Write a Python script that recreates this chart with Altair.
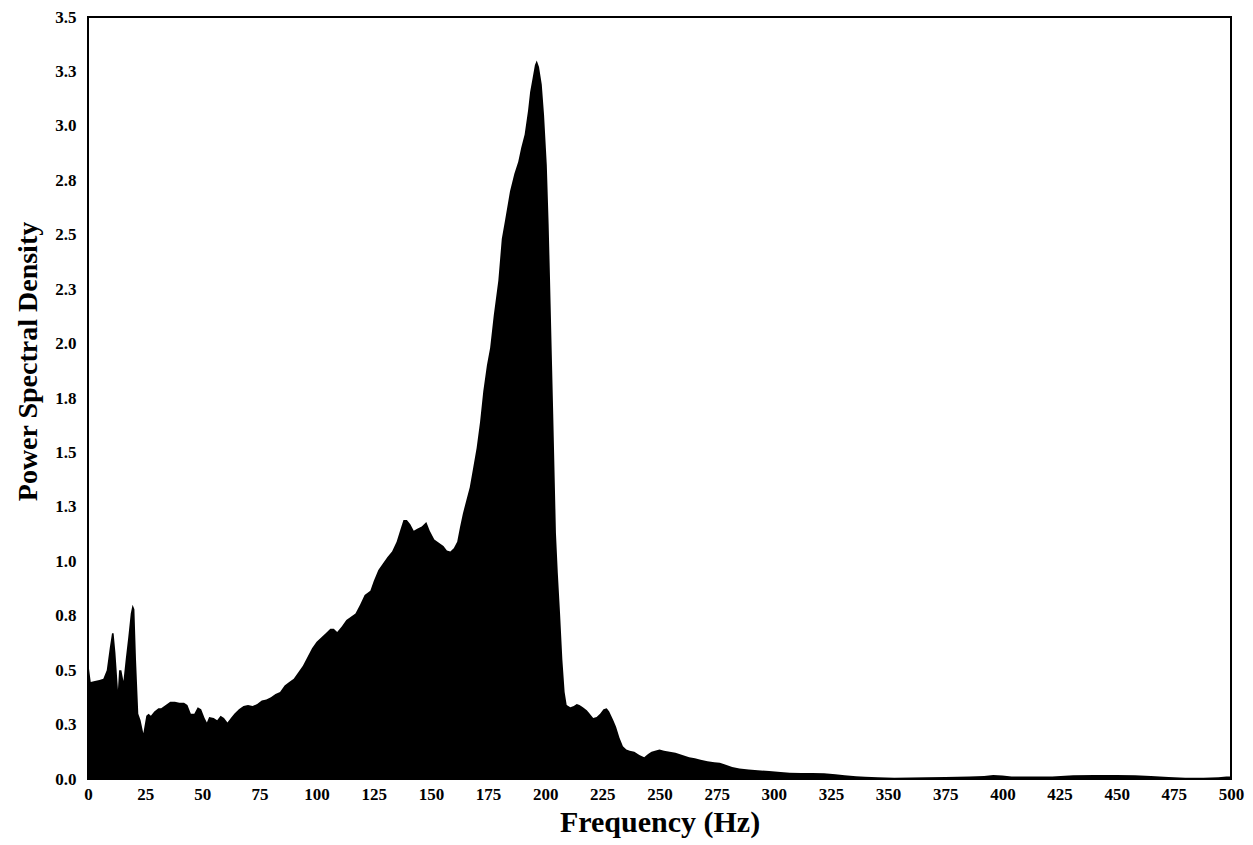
import altair as alt
import pandas as pd

freq = [0, 0.4, 1.2, 3, 5, 6.7, 8.2, 9.5, 10.5, 11.2, 12, 13.1, 13.6, 14.6, 15.5, 16.5, 17.6, 18.7, 19.5, 20.3,
        21, 22, 23, 24.2, 25.5, 26.5, 27.5, 29, 30.8, 32, 34, 36, 38, 40, 42, 43.5, 45, 46.5, 48, 49.5,
        51, 52, 53, 55, 56.5, 58, 59.5, 61, 62.5, 64, 66, 68, 70, 72, 74, 76, 78, 80, 82, 84,
        86, 88, 90, 92, 94, 96, 98, 100, 102, 104, 106, 107.5, 109, 111, 113, 115, 117, 119, 121, 123.5,
        125, 127, 129, 131, 133, 135, 136.5, 138, 139.5, 141, 142.5, 144, 146, 148, 149.5, 151.5, 153.5, 155.5, 157, 158.5,
        160, 161.5, 162.7, 164, 165.5, 167, 168.5, 170, 171.5, 172.9, 174.5, 175.9, 177.5, 179.5, 181, 182.5, 184.6, 186.5, 188.2, 189.5,
        191, 192.5, 193.4, 194.5, 195.5, 196.3, 197.3, 198.5, 199.5, 200.7, 201.5, 202.1, 203, 203.5, 204.7, 205.5, 206.5, 207.5, 208.5, 209.4,
        211, 212.5, 213.8, 215, 216.5, 218.2, 219.5, 221, 222.5, 224, 225.5, 226.9, 228, 229.8, 231, 232.5, 234, 235.5, 237, 239,
        241.2, 243.3, 245, 246.5, 248, 250, 252, 254.5, 257, 260, 263, 265.5, 268, 271, 274, 276.4, 279, 281.8, 285, 289,
        293, 298, 303, 307, 312, 317, 322, 327, 331, 336, 340, 345.5, 352.7, 360, 367, 375, 385.5, 392, 396, 400,
        404, 412, 421.8, 431, 440, 450, 458, 465, 472.7, 480, 488, 494.5, 498, 500]

psd = [0.70, 0.51, 0.445, 0.45, 0.455, 0.46, 0.50, 0.60, 0.67, 0.67, 0.58, 0.41, 0.50, 0.50, 0.45, 0.55, 0.65, 0.76, 0.80, 0.78,
       0.55, 0.30, 0.27, 0.21, 0.29, 0.30, 0.29, 0.31, 0.325, 0.325, 0.34, 0.355, 0.355, 0.35, 0.35, 0.34, 0.30, 0.30, 0.33, 0.32,
       0.28, 0.26, 0.285, 0.28, 0.27, 0.29, 0.28, 0.26, 0.28, 0.30, 0.32, 0.335, 0.34, 0.335, 0.345, 0.36, 0.365, 0.375, 0.39, 0.40,
       0.43, 0.445, 0.46, 0.49, 0.52, 0.56, 0.60, 0.63, 0.65, 0.67, 0.69, 0.69, 0.675, 0.70, 0.73, 0.745, 0.76, 0.80, 0.845, 0.865,
       0.91, 0.96, 0.99, 1.02, 1.045, 1.09, 1.14, 1.19, 1.19, 1.17, 1.14, 1.15, 1.16, 1.18, 1.14, 1.10, 1.085, 1.07, 1.05, 1.045,
       1.06, 1.09, 1.155, 1.22, 1.28, 1.34, 1.43, 1.52, 1.64, 1.78, 1.90, 1.98, 2.13, 2.29, 2.48, 2.57, 2.70, 2.78, 2.835, 2.90,
       2.96, 3.07, 3.156, 3.22, 3.28, 3.30, 3.27, 3.19, 3.05, 2.82, 2.55, 2.30, 1.90, 1.68, 1.13, 0.95, 0.76, 0.55, 0.40, 0.34,
       0.33, 0.335, 0.345, 0.34, 0.33, 0.316, 0.30, 0.28, 0.285, 0.30, 0.32, 0.325, 0.31, 0.27, 0.24, 0.19, 0.15, 0.135, 0.13, 0.125,
       0.11, 0.10, 0.115, 0.125, 0.13, 0.135, 0.13, 0.125, 0.12, 0.11, 0.10, 0.095, 0.088, 0.082, 0.077, 0.075, 0.065, 0.055, 0.048, 0.044,
       0.04, 0.037, 0.032, 0.029, 0.028, 0.027, 0.026, 0.022, 0.017, 0.013, 0.010, 0.008, 0.006, 0.007, 0.008, 0.009, 0.011, 0.014, 0.018, 0.016,
       0.012, 0.011, 0.012, 0.017, 0.018, 0.018, 0.017, 0.014, 0.009, 0.006, 0.006, 0.008, 0.012, 0.012]

x_ticks = list(range(0, 501, 25))
y_ticks = [i * 0.25 for i in range(15)]

df = pd.DataFrame({"freq": freq, "psd": psd})

FONT = "Liberation Serif"

chart = alt.Chart(df).mark_area(color="black", interpolate="linear").encode(
    x=alt.X("freq:Q", scale=alt.Scale(domain=[0, 500], nice=False),
            axis=alt.Axis(title="Frequency (Hz)", values=x_ticks, format="d", grid=False,
                          ticks=False, domain=False, labelPadding=7, labelFlush=False,
                          titleFontSize=30, titleY=52, titleBaseline="alphabetic")),
    y=alt.Y("psd:Q", scale=alt.Scale(domain=[0, 3.5], nice=False),
            axis=alt.Axis(title="Power Spectral Density", values=y_ticks, format=".1f", grid=False,
                          ticks=False, domain=False, labelPadding=12, labelFlush=False,
                          titleFontSize=28, titleX=-52, titleY=344, titleBaseline="alphabetic")),
).properties(
    width=1143, height=762,
    autosize=alt.AutoSizeParams(type="none"),
    padding={"left": 80, "top": 9, "right": 14, "bottom": 64},
).configure_view(
    stroke="black", strokeWidth=2
).configure_axis(
    labelFont=FONT, labelFontWeight="bold", labelFontSize=17, labelColor="black",
    titleFont=FONT, titleFontWeight="bold", titleColor="black",
)

chart.save("out.html", embed_options={"renderer": "svg", "actions": False})
